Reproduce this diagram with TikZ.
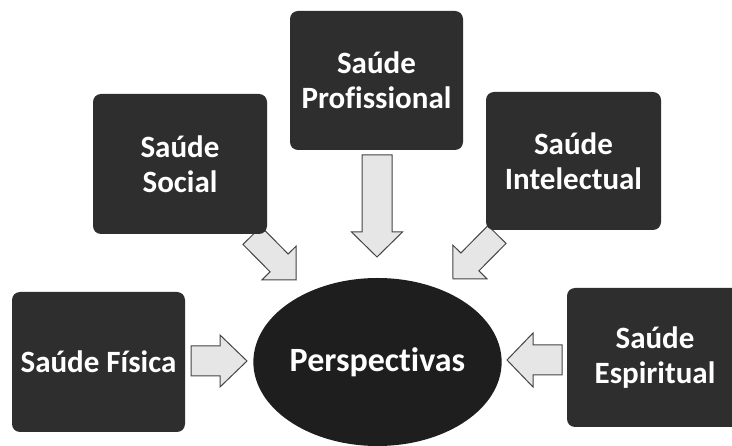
\documentclass[tikz,border=0pt]{standalone}
\usepackage{fontspec}
\setmainfont{Carlito}[Ligatures={NoCommon}]
\usetikzlibrary{calc,shapes.geometric}
\definecolor{boxfill}{HTML}{2E2E2E}
\definecolor{ellfill}{HTML}{1E1E1E}
\definecolor{arrfill}{HTML}{E6E6E6}
\definecolor{arrdraw}{HTML}{444444}
\begin{document}
\begin{tikzpicture}[x=1pt,y=-1pt,
  box/.style={fill=boxfill, rounded corners=8pt, text=white,
    font=\bfseries\fontsize{31}{35}\selectfont, align=center, inner sep=0pt,
    minimum width=#1},
  box/.default=173pt,
  blockarrow/.style n args={3}{fill=arrfill, draw=arrdraw, line width=1pt,
    line join=miter, to path={
      ($(\tikztostart)!#1!90:(\tikztotarget)$) --
      ($(\tikztotarget)!#3!(\tikztostart)!#1!90:(\tikztotarget)$) --
      ($(\tikztotarget)!#3!(\tikztostart)!#2!90:(\tikztotarget)$) --
      (\tikztotarget) --
      ($(\tikztotarget)!#3!(\tikztostart)!#2!-90:(\tikztotarget)$) --
      ($(\tikztotarget)!#3!(\tikztostart)!#1!-90:(\tikztotarget)$) --
      ($(\tikztostart)!#1!-90:(\tikztotarget)$) -- cycle}}]
\useasboundingbox (0,0) rectangle (732,446);
\clip (0,0) rectangle (732,446);
\fill[white] (0,0) rectangle (732,446);

% arrow end points
\coordinate (aPs) at (377,155);   \coordinate (aPt) at (377,257);
\coordinate (aSs) at (252,235.5); \coordinate (aSt) at (296,280);
\coordinate (aIs) at (497,234.5); \coordinate (aIt) at (453,279);
\coordinate (aFs) at (191,361);   \coordinate (aFt) at (247,361);
\coordinate (aEs) at (562,360);   \coordinate (aEt) at (507,360);

% block arrows
\draw[blockarrow={15pt}{25.5pt}{25pt}] (aPs) to (aPt);
\draw[blockarrow={12.7pt}{24pt}{24pt}] (aSs) to (aSt);
\draw[blockarrow={12.7pt}{24pt}{24pt}] (aIs) to (aIt);
\draw[blockarrow={15pt}{26pt}{27pt}] (aFs) to (aFt);
\draw[blockarrow={15pt}{27pt}{26pt}] (aEs) to (aEt);

% boxes
\node[box=174pt, minimum height=140pt] (soc) at (180,164) {Saúde\\Social};
\node[box=173pt, minimum height=139pt] (prof) at (376.5,80.5) {Saúde\\Profissional};
\node[box=175pt, minimum height=138pt] (int) at (573.5,161) {Saúde\\Intelectual};
\node[box=173pt, minimum height=140pt] (fis) at (98.5,362) {Saúde Física};
\node[box=176pt, minimum height=139pt] (esp) at (655,357.5) {Saúde\\Espiritual};

% central ellipse
\node[ellipse, fill=ellfill, text=white, inner sep=0pt,
  minimum width=235pt, minimum height=168pt,
  font=\bfseries\fontsize{34}{38}\selectfont] (persp) at (377.5,362) {Perspectivas};
\end{tikzpicture}
\end{document}
